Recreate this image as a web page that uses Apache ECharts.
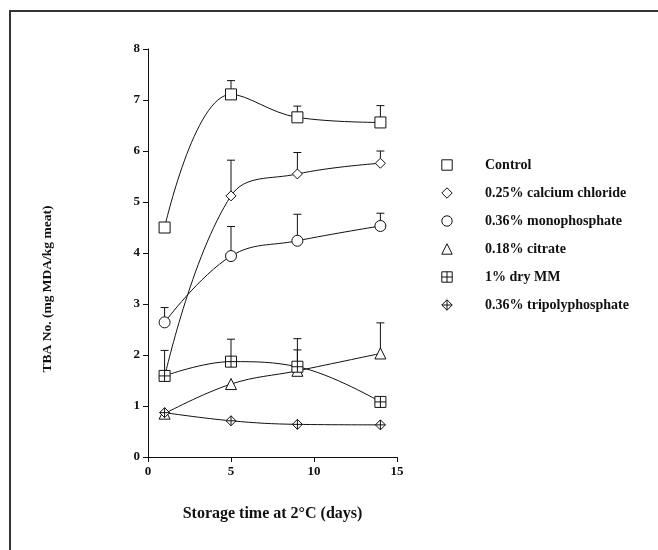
<!DOCTYPE html>
<html>
<head>
<meta charset="utf-8">
<script src="https://cdn.jsdelivr.net/npm/echarts@6/dist/echarts.min.js"></script>
<style>
  html, body { margin: 0; padding: 0; background: #fff; }
  #chart { width: 658px; height: 550px; }
</style>
</head>
<body>
<div id="chart"></div>
<script>
// storage days
const days = [1, 5, 9, 14]

// TBA values (mg MDA/kg meat) and upper error bars
const control = [4.5, 7.11, 6.66, 6.56]
const controlErr = [0, 0.27, 0.22, 0.33]
const calcium = [1.57, 5.12, 5.55, 5.76]
const calciumErr = [0, 0.7, 0.42, 0.24]
const mono = [2.64, 3.94, 4.24, 4.53]
const monoErr = [0.29, 0.58, 0.52, 0.25]
const citrate = [0.85, 1.43, 1.69, 2.03]
const citrateErr = [0, 0, 0.41, 0.6]
const dryMM = [1.59, 1.87, 1.77, 1.08]
const dryMMErr = [0.5, 0.44, 0.55, 0]
const tripoly = [0.87, 0.71, 0.64, 0.63]
const tripolyErr = [0, 0, 0, 0]

const seriesNames = ['Control', '0.25% calcium chloride', '0.36% monophosphate', '0.18% citrate', '1% dry MM', '0.36% tripolyphosphate']
const yTicks = [0, 1, 2, 3, 4, 5, 6, 7, 8]
const xTicks = [0, 5, 10, 15]

const FONT = '"Liberation Serif", "DejaVu Serif", serif'
const INK = '#111'

const squarePlus = 'path://M0 0L10 0L10 10L0 10ZM5 0L5 10M0 5L10 5'
const diamondPlus = 'path://M5 0L10 5L5 10L0 5ZM5 0L5 10M0 5L10 5'

const defs = [
  { values: control, err: controlErr, symbol: 'rect', size: 11 },
  { values: calcium, err: calciumErr, symbol: 'diamond', size: 10 },
  { values: mono, err: monoErr, symbol: 'circle', size: 11 },
  { values: citrate, err: citrateErr, symbol: 'triangle', size: 11 },
  { values: dryMM, err: dryMMErr, symbol: squarePlus, size: 11 },
  { values: tripoly, err: tripolyErr, symbol: diamondPlus, size: 10 }
]

const chart = echarts.init(document.getElementById('chart'))

const errorSeries = defs.map(d => ({
  type: 'custom',
  z: 1,
  silent: true,
  data: days.map((x, i) => [x, d.values[i], d.err[i]]),
  renderItem(params, api) {
    const x = api.value(0), y = api.value(1), e = api.value(2)
    if (!e) return null
    const p0 = api.coord([x, y])
    const p1 = api.coord([x, y + e])
    const st = { stroke: INK, lineWidth: 1 }
    return {
      type: 'group',
      children: [
        { type: 'line', shape: { x1: p0[0], y1: p0[1], x2: p1[0], y2: p1[1] }, style: st },
        { type: 'line', shape: { x1: p1[0] - 4, y1: p1[1], x2: p1[0] + 4, y2: p1[1] }, style: st }
      ]
    }
  }
}))

const lineSeries = defs.map((d, k) => ({
  name: seriesNames[k],
  type: 'line',
  z: 3,
  smooth: 0.4,
  data: days.map((x, i) => [x, d.values[i]]),
  symbol: d.symbol,
  symbolSize: d.size,
  showAllSymbol: true,
  lineStyle: { color: INK, width: 1 },
  itemStyle: { color: '#fff', borderColor: INK, borderWidth: 1 }
}))

chart.setOption({
  animation: false,
  backgroundColor: '#fff',
  grid: { left: 148, right: 261, top: 49, bottom: 93 },
  legend: {
    orient: 'vertical',
    left: 408,
    top: 153,
    itemWidth: 66,
    itemHeight: 13,
    itemGap: 14,
    data: seriesNames,
    lineStyle: { opacity: 0 },
    itemStyle: { color: '#fff', borderColor: INK, borderWidth: 1 },
    selectedMode: false,
    textStyle: { fontFamily: FONT, fontWeight: 'bold', fontSize: 14, color: INK }
  },
  xAxis: {
    type: 'value',
    min: 0,
    max: 15,
    interval: 5,
    name: 'Storage time at 2°C (days)',
    nameLocation: 'middle',
    nameGap: 49,
    nameTextStyle: { fontFamily: FONT, fontWeight: 'bold', fontSize: 16, color: INK },
    splitLine: { show: false },
    axisLine: { onZero: false, lineStyle: { color: INK, width: 1 } },
    axisTick: { length: 5, lineStyle: { color: INK } },
    axisLabel: {
      margin: 8,
      fontFamily: FONT, fontWeight: 'bold', fontSize: 13, color: INK,
      formatter: v => xTicks.includes(v) ? String(v) : ''
    }
  },
  yAxis: {
    type: 'value',
    min: 0,
    max: 8,
    interval: 1,
    splitLine: { show: false },
    axisLine: { show: true, lineStyle: { color: INK, width: 1 } },
    axisTick: { show: true, length: 5, lineStyle: { color: INK } },
    axisLabel: {
      margin: 8,
      fontFamily: FONT, fontWeight: 'bold', fontSize: 13, color: INK,
      formatter: v => yTicks.includes(v) ? String(v) : ''
    }
  },
  graphic: [
    { type: 'line', shape: { x1: 9, y1: 11, x2: 658, y2: 11 }, style: { stroke: '#333', lineWidth: 2 } },
    { type: 'line', shape: { x1: 10, y1: 10, x2: 10, y2: 550 }, style: { stroke: '#333', lineWidth: 2 } },
    {
      type: 'text',
      x: 48,
      y: 289,
      rotation: Math.PI / 2,
      style: {
        text: 'TBA No. (mg MDA/kg meat)',
        fontFamily: FONT, fontWeight: 'bold', fontSize: 13.5, fill: INK,
        align: 'center', verticalAlign: 'middle'
      }
    }
  ],
  series: [...errorSeries, ...lineSeries]
})
</script>
</body>
</html>
